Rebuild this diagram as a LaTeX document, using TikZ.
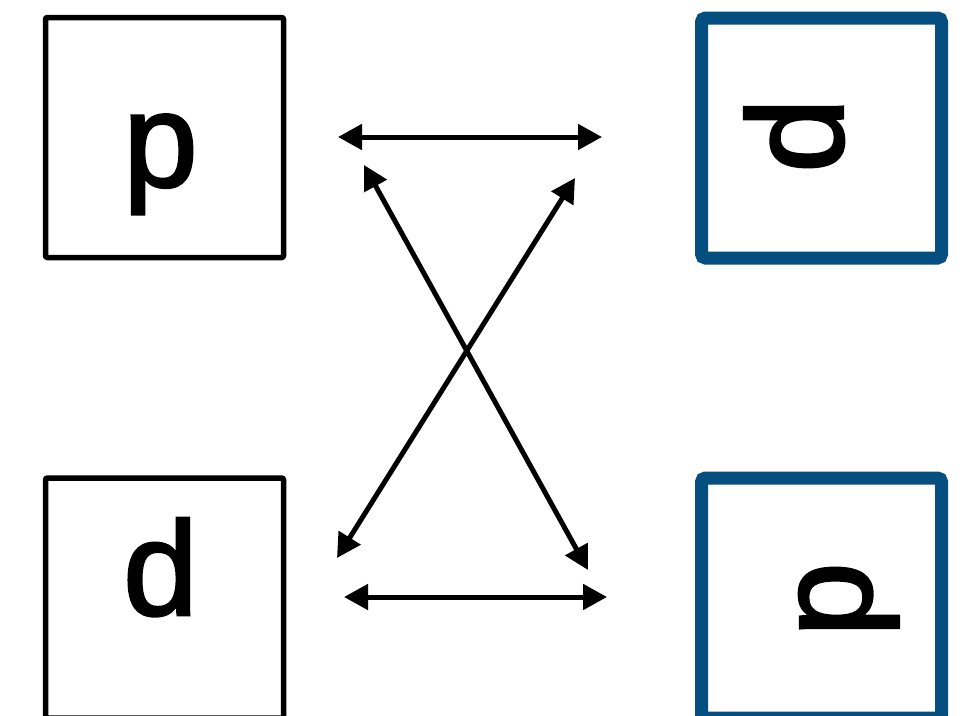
\documentclass[tikz,border=0pt]{standalone}
\usepackage{fontspec}
\setmainfont{Liberation Sans}
\newfontfamily\letterfont[FakeBold=2]{Liberation Sans}
\usetikzlibrary{arrows.meta}
\definecolor{boxblue}{RGB}{4,79,128}
\begin{document}
\begin{tikzpicture}[x=1pt,y=-1pt,
  blackbox/.style={draw=black,line width=5.5pt,rounded corners=2pt,minimum width=238pt,minimum height=240pt,inner sep=0pt},
  bluebox/.style={draw=boxblue,line width=13pt,rounded corners=4pt,minimum width=240pt,minimum height=240pt,inner sep=0pt},
  letter/.style={inner sep=0pt,anchor=base west,font=\letterfont\fontsize{134}{134}\selectfont},
  dbl/.style={line width=5pt,{Triangle[length=24pt,width=25pt]}-{Triangle[length=24pt,width=25pt]}}
]
\useasboundingbox (0,0) rectangle (974,715);
% boxes
\node[blackbox] (tl) at (164.5,137.5) {};
\node[blackbox] (bl) at (164.5,598) {};
\node[bluebox] (tr) at (821.5,138) {};
\node[bluebox] (br) at (821.5,598) {};
% letters
\node[letter] (ptl) at (123,186.5) {p};
\node[letter] (dbl) at (123,615) {d};
\node[letter,rotate=-90] (ptr) at (772,98) {p};
\node[letter,rotate=90] (pbr) at (871,637) {p};
% arrow end points
\coordinate (h1a) at (338,137);
\coordinate (h1b) at (602,137);
\coordinate (h2a) at (344,597);
\coordinate (h2b) at (607,597);
\coordinate (d1a) at (364,165);
\coordinate (d1b) at (588,570);
\coordinate (d2a) at (575,178);
\coordinate (d2b) at (337,558);
% arrows
\draw[dbl] (h1a) -- (h1b);
\draw[dbl] (h2a) -- (h2b);
\draw[dbl] (d1a) -- (d1b);
\draw[dbl] (d2a) -- (d2b);
\end{tikzpicture}
\end{document}
